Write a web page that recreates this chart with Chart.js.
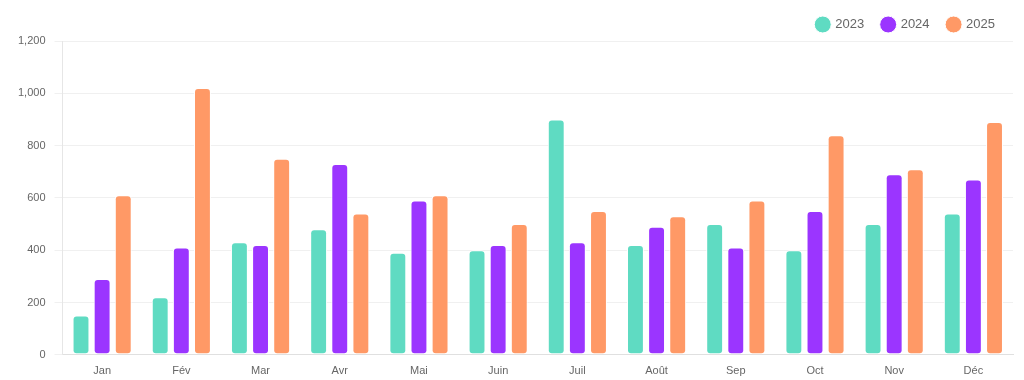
<!DOCTYPE html>
<html>
<head>
<meta charset="utf-8">
<script src="https://cdn.jsdelivr.net/npm/chart.js@4"></script>
<style>
  html, body { margin: 0; padding: 0; background: #fff; }
  #wrap { width: 1024px; height: 380px; }
</style>
</head>
<body>
<div id="wrap"><canvas id="salesChart"></canvas></div>
<script>
const months = ['Jan', 'Fév', 'Mar', 'Avr', 'Mai', 'Juin', 'Juil', 'Août', 'Sep', 'Oct', 'Nov', 'Déc'];
const values2023 = [150, 220, 430, 480, 390, 400, 900, 420, 500, 400, 500, 540];
const values2024 = [290, 410, 420, 730, 590, 420, 430, 490, 410, 550, 690, 670];
const values2025 = [610, 1020, 750, 540, 610, 500, 550, 530, 590, 840, 710, 890];

Chart.defaults.font.family = "'Helvetica Neue', Helvetica, Arial, sans-serif";
Chart.defaults.color = '#666';

const ctx = document.getElementById('salesChart').getContext('2d');
const salesChart = new Chart(ctx, {
    type: 'bar',
    data: {
        labels: months,
        datasets: [
            { label: '2023', data: values2023, backgroundColor: '#5fdbc2' },
            { label: '2024', data: values2024, backgroundColor: '#9b35ff' },
            { label: '2025', data: values2025, backgroundColor: '#ff9966' }
        ]
    },
    options: {
        responsive: true,
        maintainAspectRatio: false,
        animation: false,
        layout: { padding: { left: 9, right: 11, top: 0, bottom: 0 } },
        datasets: {
            bar: {
                borderWidth: 1,
                borderColor: '#fff',
                borderRadius: 4,
                borderSkipped: false,
                barPercentage: 0.8,
                categoryPercentage: 0.8
            }
        },
        plugins: {
            legend: {
                position: 'top',
                align: 'end', // legend sits top right
                labels: {
                    usePointStyle: true,
                    pointStyle: 'circle',
                    boxWidth: 12,
                    boxHeight: 12,
                    padding: 18,
                    font: { size: 13 }
                }
            },
            tooltip: { enabled: false }
        },
        scales: {
            x: {
                grid: { display: false },
                border: { color: '#e0e0e0' },
                ticks: { font: { size: 11 }, padding: 2 }
            },
            y: {
                min: 0,
                max: 1200,
                ticks: { stepSize: 200, font: { size: 11 }, padding: 9 },
                grid: { color: '#f0f0f0' },
                border: { color: '#e6e6e6' }
            }
        }
    }
});
</script>
</body>
</html>
